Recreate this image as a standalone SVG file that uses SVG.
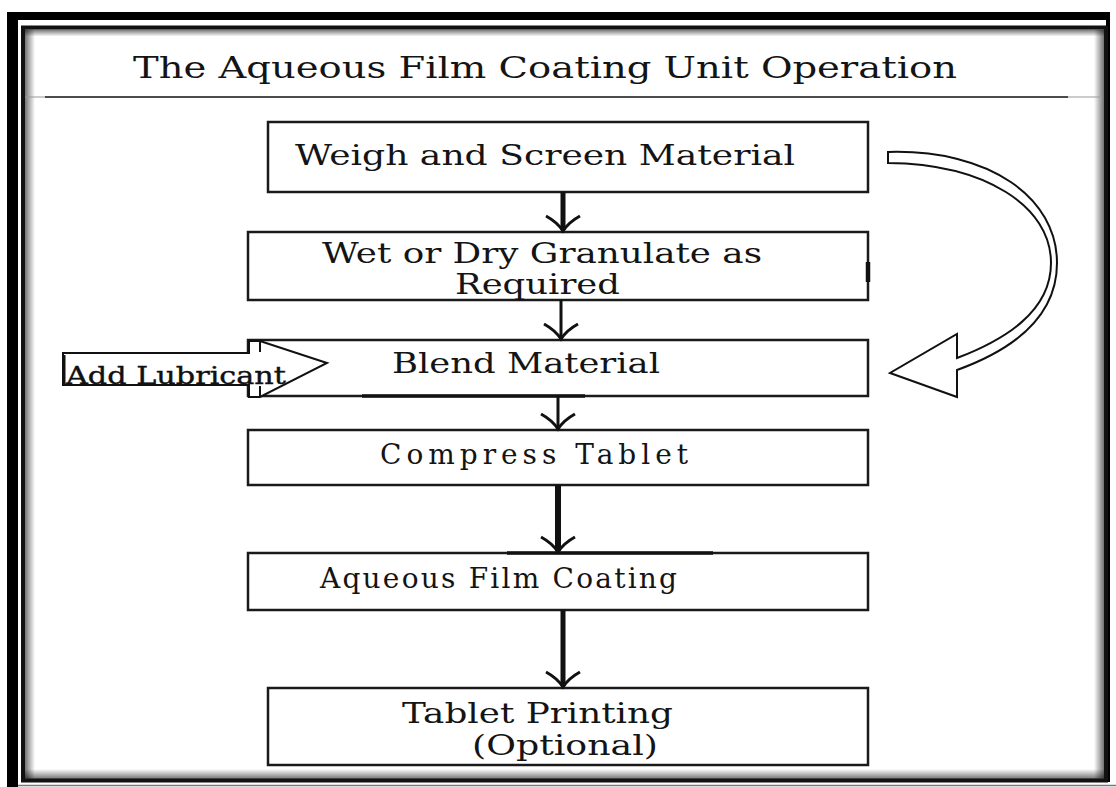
<svg xmlns="http://www.w3.org/2000/svg" width="1116" height="787" viewBox="0 0 1116 787">
  <style>
    .box { fill: #ffffff; stroke: #1a1a1a; stroke-width: 2.5; }
    .lbl { font-family: "DejaVu Serif", "Liberation Serif", serif; font-size: 28px; fill: #141414; }
    .title { font-family: "DejaVu Serif", "Liberation Serif", serif; font-size: 30px; fill: #141414; }
    .shaft { stroke: #111111; fill: none; }
    .blockarrow { fill: #ffffff; stroke: #111111; stroke-width: 2; stroke-linejoin: miter; }
  </style>
  <defs>
    <!-- open, slightly curved arrowhead; tip at origin, pointing down -->
    <path id="head" d="M -17,-15 Q -6,-9 0,0 Q 6,-9 17,-15" fill="none" stroke="#111111" stroke-width="3"/>
    <linearGradient id="shL" x1="0" y1="0" x2="1" y2="0">
      <stop offset="0" stop-color="#000" stop-opacity="0.55"/>
      <stop offset="1" stop-color="#000" stop-opacity="0"/>
    </linearGradient>
    <linearGradient id="shR" x1="1" y1="0" x2="0" y2="0">
      <stop offset="0" stop-color="#000" stop-opacity="0.55"/>
      <stop offset="1" stop-color="#000" stop-opacity="0"/>
    </linearGradient>
    <linearGradient id="shT" x1="0" y1="0" x2="0" y2="1">
      <stop offset="0" stop-color="#000" stop-opacity="0.55"/>
      <stop offset="1" stop-color="#000" stop-opacity="0"/>
    </linearGradient>
    <linearGradient id="shB" x1="0" y1="1" x2="0" y2="0">
      <stop offset="0" stop-color="#000" stop-opacity="0.55"/>
      <stop offset="1" stop-color="#000" stop-opacity="0"/>
    </linearGradient>
  </defs>

  <rect x="0" y="0" width="1116" height="787" fill="#ffffff"/>

  <!-- page frame -->
  <g id="frame">
    <rect x="7" y="12" width="11" height="775" fill="#000"/>
    <rect x="7" y="12" width="1103" height="8" fill="#000"/>
    <rect x="1106" y="12" width="4" height="770" fill="#000"/>
    <rect x="23" y="27.5" width="1083" height="753" fill="#ffffff" stroke="#111" stroke-width="4"/>
    <rect x="25" y="29.5" width="10" height="749" fill="url(#shL)"/>
    <rect x="1094" y="29.5" width="10" height="749" fill="url(#shR)"/>
    <rect x="25" y="29.5" width="1079" height="7" fill="url(#shT)"/>
    <rect x="25" y="769" width="1079" height="10" fill="url(#shB)"/>
    <line x1="18" y1="785.5" x2="1116" y2="785.5" stroke="#777" stroke-width="1.5"/>
  </g>

  <!-- heading -->
  <g id="heading">
    <text class="title" x="133" y="78" textLength="824" lengthAdjust="spacingAndGlyphs">The Aqueous Film Coating Unit Operation</text>
    <line x1="25" y1="97" x2="1100" y2="97" stroke="#999" stroke-width="1"/>
    <line x1="45" y1="97" x2="1068" y2="97" stroke="#222" stroke-width="1.6"/>
  </g>

  <g id="weigh">
    <rect class="box" x="268" y="122" width="600" height="70"/>
    <text class="lbl" x="295" y="165" textLength="500" lengthAdjust="spacingAndGlyphs">Weigh and Screen Material</text>
  </g>

  <g id="granulate">
    <rect class="box" x="248" y="232" width="620" height="68"/>
    <line x1="868" y1="262" x2="868" y2="282" stroke="#111" stroke-width="4.5"/>
    <text class="lbl" x="322" y="263" textLength="440" lengthAdjust="spacingAndGlyphs">Wet or Dry Granulate as</text>
    <text class="lbl" x="455" y="294" textLength="165" lengthAdjust="spacingAndGlyphs">Required</text>
  </g>

  <g id="blend">
    <rect class="box" x="248" y="340" width="620" height="56"/>
    <line x1="362" y1="396" x2="585" y2="396" stroke="#111" stroke-width="3.5"/>
    <text class="lbl" x="392" y="373" textLength="268" lengthAdjust="spacingAndGlyphs">Blend Material</text>
  </g>

  <g id="compress">
    <rect class="box" x="248" y="430" width="620" height="55"/>
    <text class="lbl" x="380" y="464" textLength="308">Compress Tablet</text>
  </g>

  <g id="coating">
    <rect class="box" x="248" y="553" width="620" height="57"/>
    <line x1="507" y1="553" x2="713" y2="553" stroke="#111" stroke-width="3.5"/>
    <text class="lbl" x="320" y="588" textLength="357">Aqueous Film Coating</text>
  </g>

  <g id="printing">
    <rect class="box" x="268" y="688" width="600" height="77"/>
    <text class="lbl" x="402" y="723" textLength="271" lengthAdjust="spacingAndGlyphs">Tablet Printing</text>
    <text class="lbl" x="472" y="755" textLength="186" lengthAdjust="spacingAndGlyphs">(Optional)</text>
  </g>

  <!-- side input: lubricant block arrow -->
  <g id="lubricant">
    <path class="blockarrow" d="M 63,353 H 249 V 341 H 260 L 327,363 L 260,397 H 249 V 385 H 63 Z"/>
    <line x1="260" y1="341" x2="260" y2="352" stroke="#111" stroke-width="2"/>
    <line x1="260" y1="386" x2="260" y2="397" stroke="#111" stroke-width="2"/>
    <line x1="64" y1="355" x2="64" y2="384" stroke="#111" stroke-width="3"/>
    <text x="66" y="384" textLength="220" lengthAdjust="spacingAndGlyphs" style="font-family: 'DejaVu Serif', 'Liberation Serif', serif; font-size: 25px; fill: #111; stroke: #111; stroke-width: 0.4;">Add Lubricant</text>
  </g>

  <!-- flow connectors -->
  <g id="connectors">
    <line class="shaft" x1="563" y1="192" x2="563" y2="230" stroke-width="5"/>
    <use href="#head" transform="translate(563,231)"/>
    <line class="shaft" x1="561" y1="300" x2="561" y2="338" stroke-width="3"/>
    <use href="#head" transform="translate(561,339)"/>
    <line class="shaft" x1="558" y1="396" x2="558" y2="428" stroke-width="3"/>
    <use href="#head" transform="translate(558,429)"/>
    <line class="shaft" x1="558" y1="485" x2="558" y2="551" stroke-width="6"/>
    <use href="#head" transform="translate(558,552)"/>
    <line class="shaft" x1="563" y1="610" x2="563" y2="686" stroke-width="5"/>
    <use href="#head" transform="translate(563,687)"/>
    <!-- curved bypass arrow from weighing straight to blending -->
    <path class="blockarrow" d="M 888,152 C 990,149 1057,198 1057,263 C 1057,318 1012,350 957,370 L 957,397 L 890,373 L 957,334 L 957,358 C 1004,340 1051,312 1051,263 C 1051,206 985,164 888,163 Z"/>
  </g>
</svg>
